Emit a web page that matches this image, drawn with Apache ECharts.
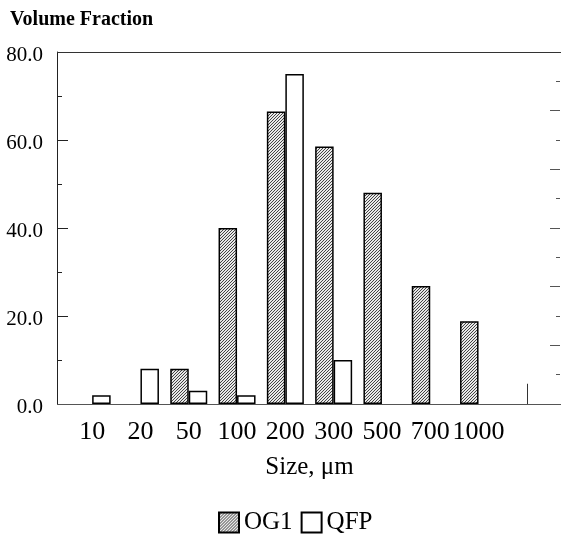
<!DOCTYPE html>
<html>
<head>
<meta charset="utf-8">
<script src="https://cdn.jsdelivr.net/npm/echarts@6/dist/echarts.min.js"></script>
<style>html,body{margin:0;padding:0;background:#fff}#c{width:561px;height:538px}</style>
</head>
<body>
<div id="c"></div>
<script>
var categories = ['10', '20', '50', '100', '200', '300', '500', '700', '1000', ''];
var og1 = [null, null, 8, 40, 66.5, 58.5, 48, 26.8, 18.8, null];
var qfp = [2, 8, 3, 2, 75, 10, null, null, null, null];
var yTicks = [0, 20, 40, 60, 80];

var pc = document.createElement('canvas');
pc.width = 3; pc.height = 3;
var g = pc.getContext('2d');
g.fillStyle = '#e8e8e8'; g.fillRect(0, 0, 3, 3);
g.fillStyle = '#444';
g.fillRect(2, 0, 1, 1); g.fillRect(1, 1, 1, 1); g.fillRect(0, 2, 1, 1);
var hatch = {image: pc, repeat: 'repeat'};

var serif = '"Liberation Serif", "DejaVu Serif", serif';
var chart = echarts.init(document.getElementById('c'));
chart.setOption({
  animation: false,
  backgroundColor: '#fff',
  textStyle: {fontFamily: serif, color: '#000'},
  title: {
    text: 'Volume Fraction', left: 5, top: 5,
    textStyle: {fontFamily: serif, fontWeight: 'bold', fontSize: 20, color: '#000'}
  },
  legend: {
    left: 218, top: 510, padding: 0, itemWidth: 20, itemHeight: 20, itemGap: 8, icon: 'rect',
    textStyle: {fontFamily: serif, fontSize: 25, color: '#000'},
    data: ['OG1', 'QFP']
  },
  grid: {left: 68, right: 10, top: 52, bottom: 134},
  xAxis: {
    type: 'category', data: categories,
    axisLine: {show: false}, axisTick: {show: false},
    axisLabel: {fontFamily: serif, fontSize: 26, color: '#000', margin: 15, interval: 0},
    name: 'Size, \u03bcm', nameLocation: 'middle', nameGap: 51,
    nameTextStyle: {fontFamily: serif, fontSize: 25, color: '#000'}
  },
  yAxis: [{
    type: 'value', min: 0, max: 80, interval: 20, position: 'left', offset: 11,
    axisLine: {show: true, lineStyle: {color: '#222', width: 1}},
    axisTick: {show: true, inside: true, length: 11, lineStyle: {color: '#222'}},
    minorTick: {show: true, splitNumber: 2, length: 5, lineStyle: {color: '#222'}},
    splitLine: {show: false},
    axisLabel: {margin: 14,
      formatter: function (v) { return yTicks.indexOf(v) >= 0 ? '{a|' + v.toFixed(1) + '}' : ''; },
      rich: {a: {fontFamily: serif, fontSize: 21, color: '#000', padding: [7, 0, 0, 0]}}}
  }, {
    type: 'value', min: 0, max: 6, interval: 1, position: 'right', offset: 9,
    axisLine: {show: false},
    axisTick: {show: true, inside: true, length: 10, lineStyle: {color: '#555'}},
    minorTick: {show: true, splitNumber: 2, length: 4, lineStyle: {color: '#555'}},
    splitLine: {show: false}, axisLabel: {show: false}
  }],
  graphic: [
    {type: 'line', shape: {x1: 57, y1: 52.5, x2: 561, y2: 52.5}, style: {stroke: '#333', lineWidth: 1}, z: 10},
    {type: 'line', shape: {x1: 57, y1: 404.5, x2: 561, y2: 404.5}, style: {stroke: '#555', lineWidth: 1.2}, z: 10}
  ],
  series: [{
    name: 'OG1', type: 'bar', data: og1, barWidth: 18.5, barGap: '0%',
    itemStyle: {color: hatch, borderColor: '#000', borderWidth: 1.5}
  }, {
    name: 'QFP', type: 'bar', data: qfp, barWidth: 18.5, barGap: '0%',
    itemStyle: {color: '#fff', borderColor: '#000', borderWidth: 1.5}
  }, {
    name: 'tick', type: 'line', data: [], silent: true,
    markLine: {
      silent: true, symbol: 'none', label: {show: false},
      lineStyle: {color: '#333', width: 1, type: 'solid'},
      data: [[{coord: [9, 0]}, {coord: [9, 4.6]}]]
    }
  }]
});
</script>
</body>
</html>
